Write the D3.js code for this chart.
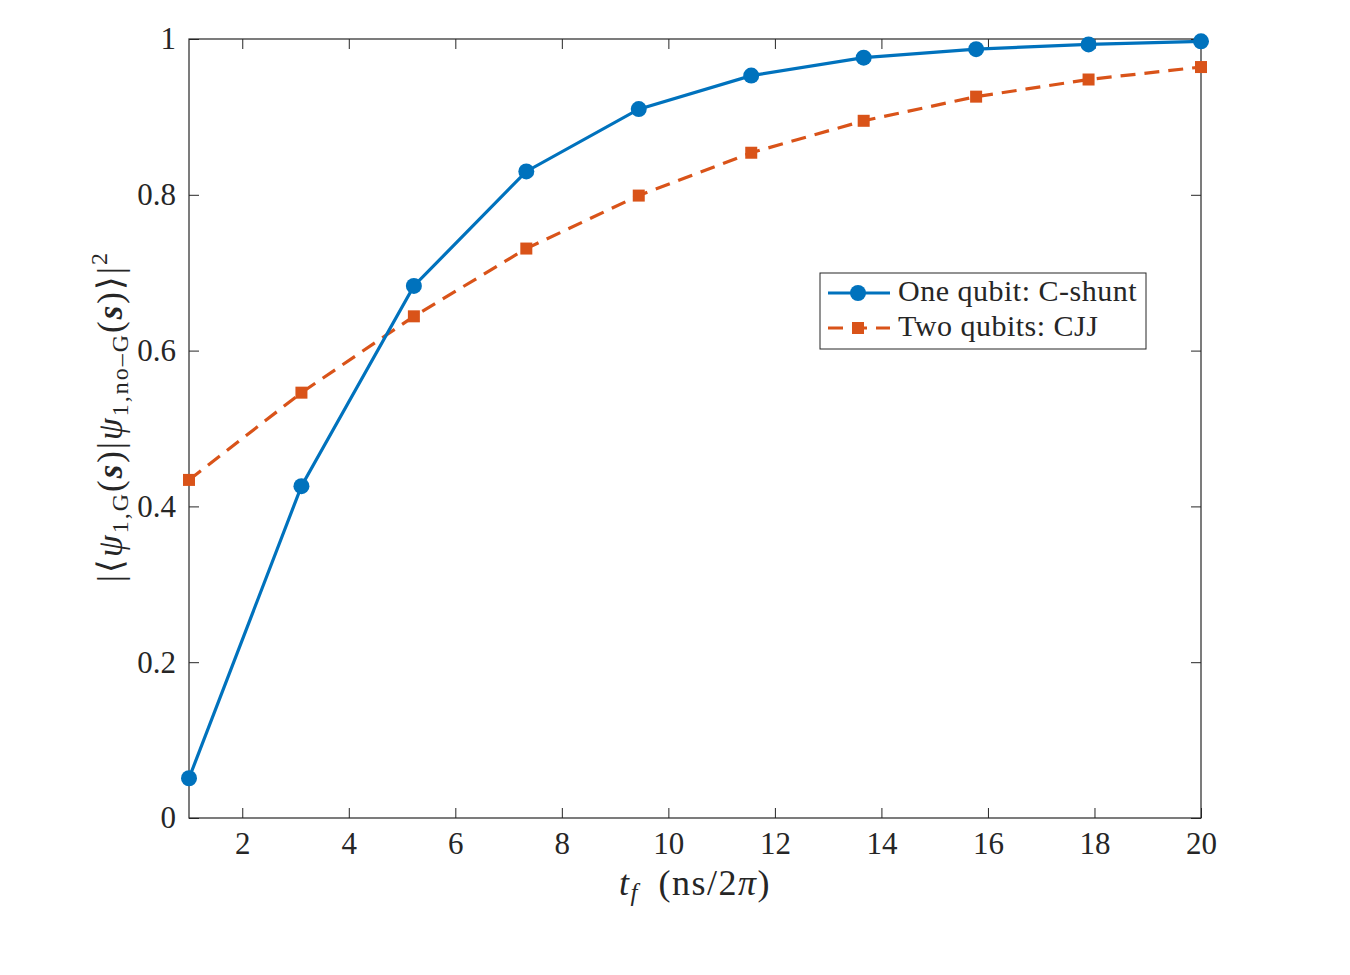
<!DOCTYPE html>
<html>
<head>
<meta charset="utf-8">
<script src="https://cdn.jsdelivr.net/npm/d3@7"></script>
<style>
  body { margin: 0; background: #fff; }
  text { font-family: "Liberation Serif", "Times New Roman", serif; fill: #262626; }
</style>
</head>
<body>
<div id="chart"></div>
<script>
var svgWidth = 1350;
var svgHeight = 975;

var margin = { top: 39, right: 149, bottom: 157, left: 189 };
var width = svgWidth - margin.left - margin.right;
var height = svgHeight - margin.top - margin.bottom;

// data
var tf = [1, 3.111, 5.222, 7.333, 9.444, 11.556, 13.667, 15.778, 17.889, 20];
var cShunt = [0.051, 0.426, 0.683, 0.830, 0.910, 0.953, 0.976, 0.987, 0.993, 0.997];
var cjj = [0.434, 0.546, 0.644, 0.731, 0.799, 0.854, 0.895, 0.926, 0.948, 0.964];
var xTicks = [2, 4, 6, 8, 10, 12, 14, 16, 18, 20];
var yTicks = [0, 0.2, 0.4, 0.6, 0.8, 1];
var seriesNames = ["One qubit: C-shunt", "Two qubits: CJJ"];

var blue = "#0072BD";
var orange = "#D95319";

var svg = d3.select("#chart").append("svg")
  .attr("width", svgWidth)
  .attr("height", svgHeight);

var chartGroup = svg.append("g")
  .attr("transform", `translate(${margin.left}, ${margin.top})`);

var x = d3.scaleLinear().domain([1, 20]).range([0, width]);
var y = d3.scaleLinear().domain([0, 1]).range([height, 0]);

// axes with inward ticks (MATLAB style box)
var bottomAxis = d3.axisBottom(x).tickValues(xTicks).tickSize(-10).tickPadding(14).tickFormat(d3.format("d"));
var leftAxis = d3.axisLeft(y).tickValues(yTicks).tickSize(-10).tickPadding(13).tickFormat(d => d === 0 || d === 1 ? d : d3.format(".1f")(d));
var topAxis = d3.axisTop(x).tickValues(xTicks).tickSize(-10).tickFormat("");
var rightAxis = d3.axisRight(y).tickValues(yTicks).tickSize(-10).tickFormat("");

function styleAxis(g) {
  g.attr("font-family", null);
  g.select(".domain").remove();
  g.selectAll(".tick line").attr("stroke", "#262626").attr("stroke-width", 1);
  g.selectAll(".tick text").attr("font-size", 31).attr("fill", "#262626");
}

chartGroup.append("g").attr("transform", `translate(0, ${height})`).call(bottomAxis).call(styleAxis);
chartGroup.append("g").call(leftAxis).call(styleAxis);
chartGroup.append("g").call(topAxis).call(styleAxis);
chartGroup.append("g").attr("transform", `translate(${width}, 0)`).call(rightAxis).call(styleAxis);

chartGroup.append("rect")
  .attr("width", width).attr("height", height)
  .attr("fill", "none").attr("stroke", "#262626").attr("stroke-width", 1.2);

var line = d3.line().x(d => x(d[0])).y(d => y(d[1]));

// orange dashed series
var cjjData = tf.map((t, i) => [t, cjj[i]]);
chartGroup.append("path")
  .datum(cjjData)
  .attr("d", line)
  .attr("fill", "none")
  .attr("stroke", orange)
  .attr("stroke-width", 3.2)
  .attr("stroke-dasharray", "15,9");

chartGroup.selectAll(".sq")
  .data(cjjData)
  .enter()
  .append("rect")
  .attr("class", "sq")
  .attr("x", d => x(d[0]) - 6)
  .attr("y", d => y(d[1]) - 6)
  .attr("width", 12).attr("height", 12)
  .attr("fill", orange);

// blue solid series
var csData = tf.map((t, i) => [t, cShunt[i]]);
chartGroup.append("path")
  .datum(csData)
  .attr("d", line)
  .attr("fill", "none")
  .attr("stroke", blue)
  .attr("stroke-width", 3.2);

chartGroup.selectAll(".dot")
  .data(csData)
  .enter()
  .append("circle")
  .attr("class", "dot")
  .attr("cx", d => x(d[0]))
  .attr("cy", d => y(d[1]))
  .attr("r", 8)
  .attr("fill", blue);

// legend
var legend = svg.append("g").attr("transform", "translate(820, 273)");
legend.append("rect")
  .attr("width", 326).attr("height", 76)
  .attr("fill", "#fff").attr("stroke", "#262626").attr("stroke-width", 1);

legend.append("line").attr("x1", 8).attr("x2", 70).attr("y1", 20).attr("y2", 20)
  .attr("stroke", blue).attr("stroke-width", 3.2);
legend.append("circle").attr("cx", 38).attr("cy", 20).attr("r", 8).attr("fill", blue);
legend.append("line").attr("x1", 8).attr("x2", 70).attr("y1", 55).attr("y2", 55)
  .attr("stroke", orange).attr("stroke-width", 3.2).attr("stroke-dasharray", "15,9");
legend.append("rect").attr("x", 32).attr("y", 49).attr("width", 12).attr("height", 12).attr("fill", orange);

legend.selectAll(".lt")
  .data(seriesNames)
  .enter()
  .append("text")
  .attr("class", "lt")
  .attr("x", 78)
  .attr("y", (d, i) => 28 + i * 35)
  .attr("font-size", 30)
  .attr("letter-spacing", 0.5)
  .text(d => d);

// x label
var xl = svg.append("text")
  .attr("x", margin.left + width / 2)
  .attr("y", 895)
  .attr("text-anchor", "middle")
  .attr("font-size", 36)
  .attr("letter-spacing", 1.5);
xl.append("tspan").attr("font-style", "italic").text("t");
xl.append("tspan").attr("font-style", "italic").attr("font-size", 25).attr("dy", 6).text("f");
xl.append("tspan").attr("dy", -6).text("\u2002(ns/2");
xl.append("tspan").attr("font-style", "italic").text("\u03c0");
xl.append("tspan").text(")");

// y label
var yl = svg.append("text")
  .attr("transform", `translate(122, ${margin.top + height / 2 - 12}) rotate(-90)`)
  .attr("text-anchor", "middle")
  .attr("font-size", 35)
  .attr("letter-spacing", 2);
yl.append("tspan").text("|\u27e8");
yl.append("tspan").attr("font-style", "italic").text("\u03c8");
yl.append("tspan").attr("font-size", 24).attr("dy", 6).text("1,G");
yl.append("tspan").attr("dy", -6).text("(");
yl.append("tspan").attr("font-style", "italic").attr("font-weight", "bold").text("s");
yl.append("tspan").text(")|");
yl.append("tspan").attr("font-style", "italic").text("\u03c8");
yl.append("tspan").attr("font-size", 24).attr("dy", 6).text("1,no\u2013G");
yl.append("tspan").attr("dy", -6).text("(");
yl.append("tspan").attr("font-style", "italic").attr("font-weight", "bold").text("s");
yl.append("tspan").text(")\u27e9|");
yl.append("tspan").attr("font-size", 24).attr("dy", -15).text("2");
</script>
</body>
</html>
